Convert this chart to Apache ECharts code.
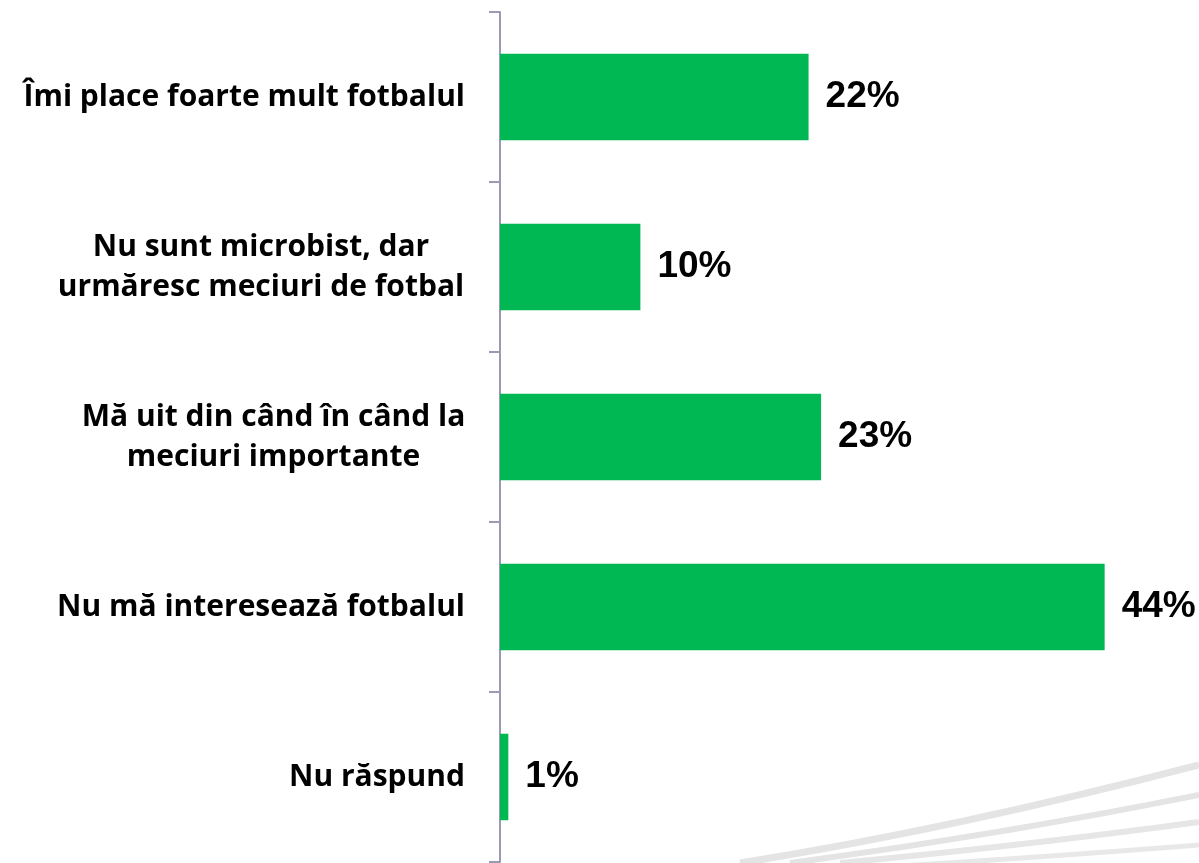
<!DOCTYPE html>
<html>
<head>
<meta charset="utf-8">
<script src="https://cdn.jsdelivr.net/npm/echarts@6/dist/echarts.min.js"></script>
<style>
    html, body { margin: 0; padding: 0; background: #fff; }
    #chart { width: 1199px; height: 863px; }
</style>
</head>
<body>
<div id="chart"></div>
<script>
// categories, top to bottom
var categories = [
    'Îmi place foarte mult fotbalul',
    'Nu sunt microbist, dar\nurmăresc meciuri de fotbal',
    'Mă uit din când în când la\nmeciuri importante',
    'Nu mă interesează fotbalul',
    'Nu răspund'
];
// bar lengths (%)
var values = [22.2, 10.1, 23.1, 43.5, 0.6];
// printed labels
var valueLabels = ['22%', '10%', '23%', '44%', '1%'];

var labelFont = { color: '#000', fontFamily: 'Open Sans', fontWeight: 'bold', fontSize: 30, lineHeight: 40 };

var chart = echarts.init(document.getElementById('chart'));
var option = {
    animation: false,
    backgroundColor: '#fff',
    grid: { left: 500, right: 4, top: 12, bottom: 1 },
    // faint decorative swooshes in the bottom right corner
    graphic: [
        { type: 'bezierCurve', silent: true, z: -1, shape: { x1: 740, y1: 863, x2: 1199, y2: 765, cpx1: 950, cpy1: 830 }, style: { stroke: '#e4e4e4', lineWidth: 7, fill: null } },
        { type: 'bezierCurve', silent: true, z: -1, shape: { x1: 790, y1: 863, x2: 1199, y2: 795, cpx1: 1000, cpy1: 835 }, style: { stroke: '#e4e4e4', lineWidth: 6, fill: null } },
        { type: 'bezierCurve', silent: true, z: -1, shape: { x1: 840, y1: 863, x2: 1199, y2: 822, cpx1: 1030, cpy1: 845 }, style: { stroke: '#e6e6e6', lineWidth: 6, fill: null } },
        { type: 'bezierCurve', silent: true, z: -1, shape: { x1: 900, y1: 866, x2: 1199, y2: 845, cpx1: 1060, cpy1: 856 }, style: { stroke: '#e8e8e8', lineWidth: 5, fill: null } }
    ],
    xAxis: {
        type: 'value',
        min: 0,
        max: 50,
        show: false
    },
    yAxis: {
        type: 'category',
        inverse: true,
        data: categories,
        axisLine: { show: true, lineStyle: { color: '#9a9ab4', width: 2 } },
        axisTick: { show: true, length: 11, lineStyle: { color: '#9a9ab4', width: 2 } },
        axisLabel: Object.assign({
            margin: 35,
            align: 'right',
            // two-line labels are centred on their longest line
            formatter: function (val, idx) {
                if (val.indexOf('\n') === -1) return val;
                var key = idx === 1 ? 'a' : 'b';
                return val.split('\n').map(function (s) { return '{' + key + '|' + s + '}'; }).join('\n');
            },
            rich: {
                a: Object.assign({ width: 408, align: 'center' }, labelFont),
                b: Object.assign({ width: 383, align: 'center' }, labelFont)
            }
        }, labelFont)
    },
    series: [{
        type: 'bar',
        data: values,
        barWidth: '51%',
        itemStyle: { color: '#00b853' },
        label: {
            show: true,
            position: 'right',
            distance: 17,
            color: '#000',
            fontFamily: 'Liberation Sans',
            fontWeight: 'bold',
            fontSize: 37,
            formatter: function (p) {
                return valueLabels[p.dataIndex];
            }
        }
    }]
};
chart.setOption(option);
</script>
</body>
</html>
